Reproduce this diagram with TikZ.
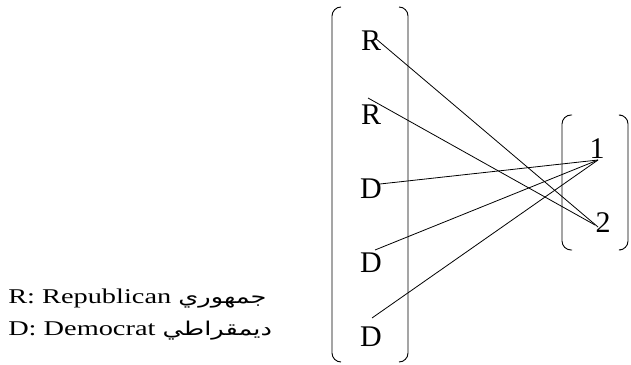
\documentclass[tikz,border=0pt]{standalone}
\usepackage{fontspec}
\setmainfont{Liberation Serif}
\newfontfamily\arabicfont[Script=Arabic]{DejaVu Sans}
\TeXXeTstate=1
\usepackage{tikz}

\begin{document}
\begin{tikzpicture}[x=1pt, y=1pt, node distance=74pt,
  party/.style={inner sep=0pt, font=\fontsize{30}{30}\selectfont},
  key/.style={anchor=base west, inner sep=0pt, xscale=1.35, font=\fontsize{21}{21}\selectfont},
  paren/.style={rounded corners=9pt, line width=0.9pt},
  link/.style={line width=0.8pt}]
\useasboundingbox (0,0) rectangle (631,364);
\node[party] (R1) at (371,323) {R};
\node[party, below of=R1] (R2) {R};
\node[party, below of=R2] (D1) {D};
\node[party, below of=D1] (D2) {D};
\node[party, below of=D2] (D3) {D};
\node[party] (N1) at (597,215) {1};
\node[party] (N2) at (603,141) {2};
% brackets
\draw[paren] (341,357) -- (332,357) -- (332,2) -- (341,2);
\draw[paren] (399,357) -- (408,357) -- (408,2) -- (399,2);
\draw[paren] (572,249) -- (562,249) -- (562,114) -- (572,114);
\draw[paren] (621,249) -- (628,249) -- (628,114) -- (621,114);
% links
\draw[link] ([shift={(4pt,3pt)}]R1.center) -- ([shift={(-5pt,-4pt)}]N2.center);
\draw[link] ([shift={(-3pt,17pt)}]R2.center) -- ([shift={(-8pt,-2pt)}]N2.center);
\draw[link] ([shift={(9pt,5pt)}]D1.center) -- ([shift={(1pt,-11pt)}]N1.center);
\draw[link] ([shift={(4pt,13pt)}]D2.center) -- ([shift={(1pt,-11pt)}]N1.center);
\draw[link] ([shift={(1pt,19pt)}]D3.center) -- ([shift={(1pt,-11pt)}]N1.center);
% key
\node[key] (KR) at (8,61) {R: Republican {\arabicfont\fontsize{19}{19}\selectfont\beginR جمهوري\endR}};
\node[key] (KD) at (8,29) {D: Democrat {\arabicfont\fontsize{19}{19}\selectfont\beginR ديمقراطي\endR}};
\end{tikzpicture}
\end{document}
